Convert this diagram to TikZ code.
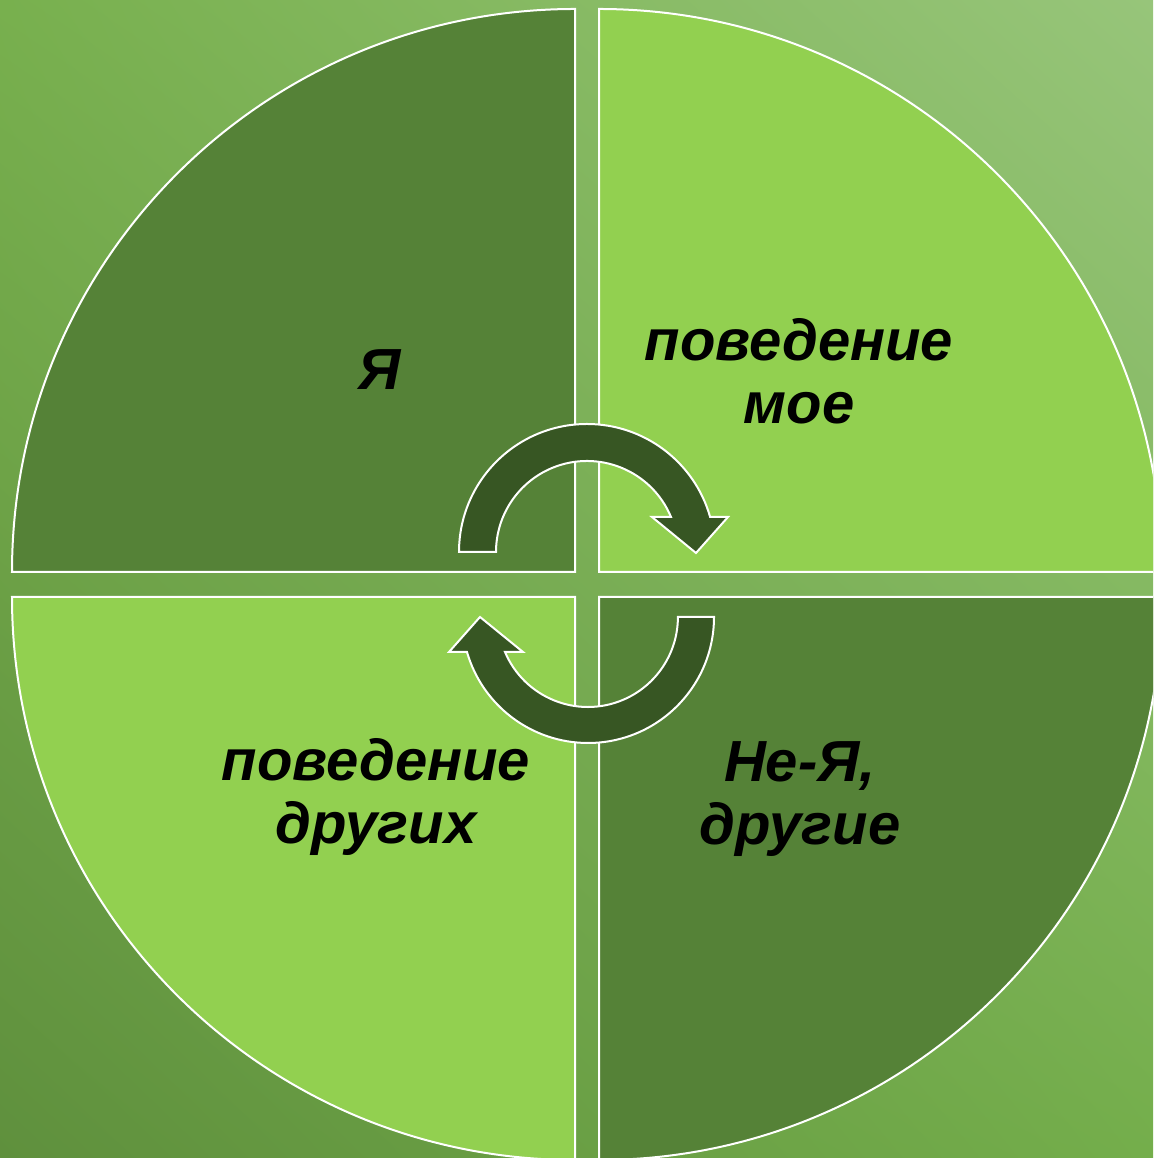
\documentclass[tikz,border=0pt]{standalone}
\usepackage{fontspec}
\setmainfont{Liberation Sans}
\usepackage{xcolor}
\usepackage{tikz}
\usetikzlibrary{positioning, calc, shadings}

\definecolor{bgTL}{HTML}{78B04E}
\definecolor{bgTR}{HTML}{97C57A}
\definecolor{bgBL}{HTML}{5F903D}
\definecolor{bgBR}{HTML}{74AE4B}
\definecolor{quadDark}{HTML}{558237}
\definecolor{quadLight}{HTML}{92D050}
\definecolor{arrowGreen}{HTML}{375623}

\begin{document}
\begin{tikzpicture}[x=1pt, y=1pt,
    quad/.style={draw=white, line width=2pt},
    turn/.style={fill=arrowGreen, draw=white, line width=2pt, line join=miter},
    label/.style={font=\fontsize{58}{63}\selectfont\bfseries\itshape, align=center, text=black, inner sep=0pt}]
    % Background
    \useasboundingbox (0,0) rectangle (1153,1158);
    \shade[upper left=bgTL, upper right=bgTR, lower left=bgBL, lower right=bgBR]
        (0,0) rectangle (1153,1158);

    % Quarter sectors
    \begin{scope}
    \clip (0,0) rectangle (1153,1158);
    \fill[quadDark, quad] (575,586) -- (12,586) arc (180:90:563) -- cycle;
    \fill[quadLight, quad] (599,586) -- (599,1149) arc (90:0:563) -- cycle;
    \fill[quadLight, quad] (575,561) -- (12,561) arc (180:270:563) -- cycle;
    \fill[quadDark, quad] (599,561) -- (599,-2) arc (270:360:563) -- cycle;
    \end{scope}

    % Curved arrows
    \filldraw[turn] (459,606) arc (180:15.87:128) -- (728,641) -- (696,605)
        -- (652,641) -- (671,641) arc (22.62:180:91) -- cycle;
    \filldraw[turn] (714,541) arc (0:-163.87:126) -- (449,506) -- (480,541)
        -- (523,506) -- (505,506) arc (-157.11:0:90) -- cycle;

    % Labels
    \node[label] (self) at (380,788) {Я};
    \node[label] (ownact) at (799,786.5) {поведение\\мое};
    \node[label] (otheract) at (376,361) {поведение\\других};
    \node[label] (others) at (800,359) {Не-Я,\\другие};
\end{tikzpicture}
\end{document}
